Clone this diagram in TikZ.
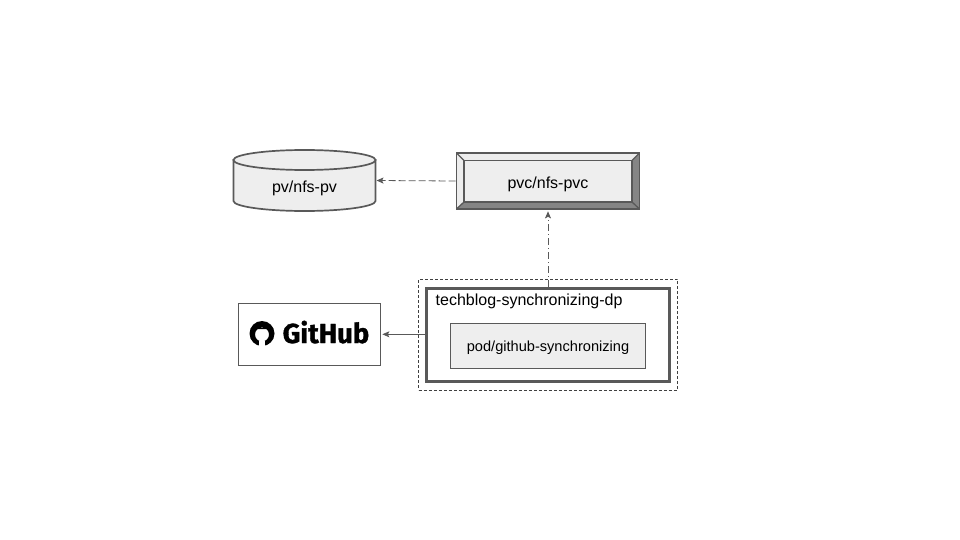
\documentclass[tikz,border=0pt]{standalone}
\usepackage{fontspec}
\setmainfont{Liberation Sans}
\newfontfamily\ghfont[FakeBold=1.2]{Fira Sans Bold}
\usetikzlibrary{arrows.meta}
\definecolor{ln}{HTML}{595959}
\definecolor{fl}{HTML}{EEEEEE}
\definecolor{ddk}{HTML}{858585}
\definecolor{lgt}{HTML}{EDEDED}
\tikzset{
 x=1pt,y=-1pt,
 lbl/.style={font=\fontsize{16}{18}\selectfont,text=black,inner sep=0pt,anchor=base},
 conn/.style={draw=ln,line width=0.8pt,-{Stealth[length=7pt,width=6pt,inset=1.5pt]}},
 dconn/.style={conn,dash pattern=on 7pt off 3pt},
 ddconn/.style={conn,shorten >=1.5pt,dash pattern=on 7pt off 3pt on 1pt off 3pt},
 box/.style={draw=ln,line width=1.9pt,fill=fl,inner sep=0pt,anchor=center},
}
\begin{document}
\begin{tikzpicture}
\useasboundingbox (0,0) rectangle (960,540);
% cylinder
\path[fill=fl,draw=ln,line width=1.7pt] (233.5,160) -- (233.5,201) .. controls (233.5,206.5) and (265,211) .. (304.5,211) .. controls (344,211) and (375.5,206.5) .. (375.5,201) -- (375.5,160) -- cycle;
\path[fill=fl,draw=ln,line width=1.7pt] (304.5,160) ellipse[x radius=71,y radius=10];
\coordinate (pv) at (376.5,180.5);
\node[lbl] (pvt) at (304.5,192) {pv/nfs-pv};
% bevel box
\fill[fl] (456.5,153) rectangle (639.5,209);
\fill[lgt] (456.5,153) -- (639.5,153) -- (632,160.5) -- (464,160.5) -- cycle;
\fill[lgt] (456.5,153) -- (464,160.5) -- (464,202) -- (456.5,209) -- cycle;
\fill[ddk] (639.5,153) -- (639.5,209) -- (632,202) -- (632,160.5) -- cycle;
\fill[ddk] (456.5,209) -- (464,202) -- (632,202) -- (639.5,209) -- cycle;
\draw[ln,line width=1.3pt] (464,160.5) rectangle (632,202);
\draw[ln,line width=1.3pt] (456.5,153) -- (464,160.5) (639.5,153) -- (632,160.5) (456.5,209) -- (464,202) (639.5,209) -- (632,202);
\node[draw=ln,line width=1.7pt,minimum width=183pt,minimum height=56pt,inner sep=0pt] (pvc) at (548,181) {};
\node[lbl] (pvct) at (548,188) {pvc/nfs-pvc};
% deployment
\node[draw=black!75,line width=0.6pt,dash pattern=on 3pt off 2pt,minimum width=259pt,minimum height=111pt,inner sep=0pt] (grp) at (548,334.5) {};
\node[draw=ln,line width=3pt,minimum width=243pt,minimum height=93.5pt,inner sep=0pt] (dp) at (548,334.8) {};
\node[lbl,anchor=base west] (dpt) at (435.5,305) {techblog-synchronizing-dp};
\node[box,minimum width=195pt,minimum height=45pt] (pod) at (548,346) {};
\node[lbl,font=\fontsize{14.6}{16}\selectfont] (podt) at (548,351.5) {pod/github-synchronizing};
% github
\node[draw=ln,line width=0.7pt,minimum width=142pt,minimum height=62pt,inner sep=0pt] (gh) at (309.5,334.3) {};
\fill[black,even odd rule] (262,333.5) circle[radius=12.5] (262,334.5) circle[radius=7];
\fill[black] (255,325) -- (256,329) -- (268,329) -- (269,325) -- (266,328) -- (258,328) -- cycle;
\fill[white] (259,341) rectangle (265,346.5);
\node[inner sep=0pt,text=black,font=\ghfont\fontsize{27.5}{30}\selectfont,anchor=base west] (ght) at (282.5,343) {GitHub};
% connectors
\draw[dconn] (pvc.west) -- (pv);
\draw[ddconn] (dp.north) -- (pvc.south);
\draw[conn,shorten >=1.5pt] (dp.west |- gh.east) -- (gh.east);
\end{tikzpicture}
\end{document}
